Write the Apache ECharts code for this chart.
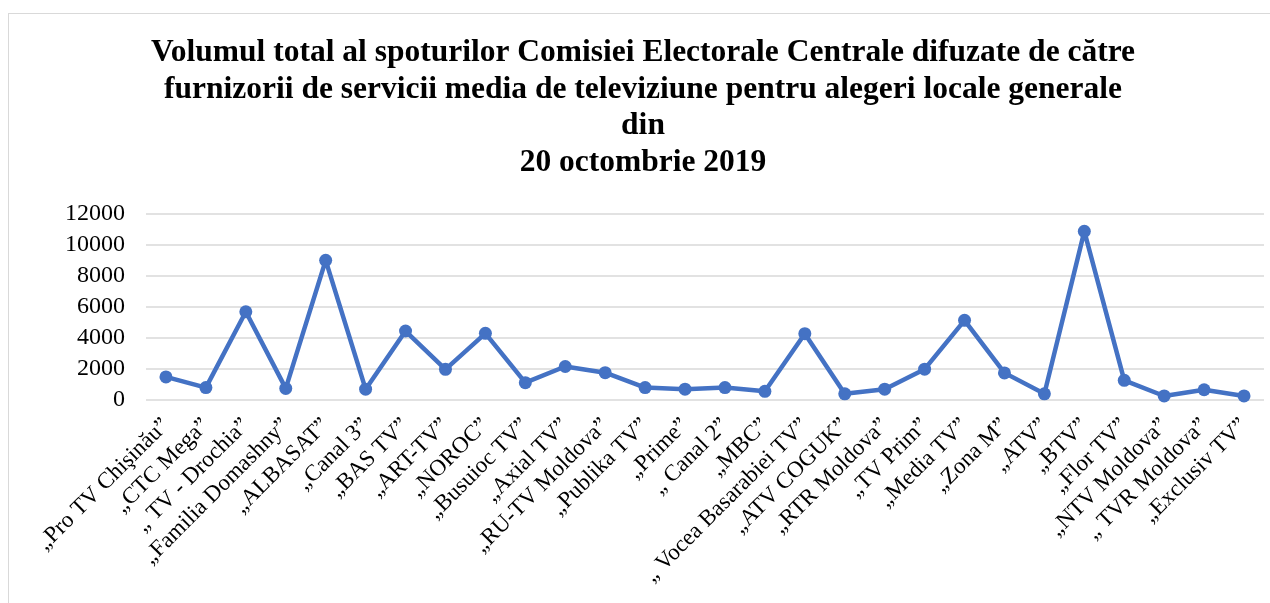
<!DOCTYPE html>
<html>
<head>
<meta charset="utf-8">
<script src="https://cdn.jsdelivr.net/npm/echarts@6/dist/echarts.min.js"></script>
<style>
html,body{margin:0;padding:0;background:#fff;}
#frame{position:absolute;left:8px;top:13px;width:1270px;height:600px;border-left:1.5px solid #d9d9d9;border-top:1.5px solid #d9d9d9;box-sizing:border-box;}
#chart{position:absolute;left:0;top:0;width:1270px;height:603px;}
</style>
</head>
<body>
<div id="frame"></div>
<div id="chart"></div>
<script>
const titleLines = [
  "Volumul total al spoturilor Comisiei Electorale Centrale difuzate de către",
  "furnizorii de servicii media de televiziune pentru alegeri locale generale",
  "din",
  "20 octombrie 2019"
];
const categories = [
  "„Pro TV Chişinău”", "„CTC Mega”", "„ TV - Drochia”", "„Familia Domashny”",
  "„ALBASAT”", "„Canal 3”", "„BAS TV”", "„ART-TV”", "„NOROC”", "„Busuioc TV”",
  "„Axial TV”", "„RU-TV Moldova”", "„Publika TV”", "„Prime”", "„ Canal 2”",
  "„MBC”", "„ Vocea Basarabiei TV”", "„ATV COGUK”", "„RTR Moldova”", "„TV Prim”",
  "„Media TV”", "„Zona M”", "„ATV”", "„BTV”", "„Flor TV”", "„NTV Moldova”",
  "„ TVR Moldova”", "„Exclusiv TV”"
];
const values = [
  1490, 800, 5690, 750, 9010, 700, 4450, 1980, 4300, 1120,
  2160, 1760, 800, 700, 800, 560, 4280, 400, 700, 1990,
  5140, 1750, 400, 10880, 1270, 260, 660, 260
];
const yTicks = { min: 0, max: 12000, interval: 2000 };

const chart = echarts.init(document.getElementById('chart'), null, { renderer: 'canvas' });
chart.setOption({
  backgroundColor: 'transparent',
  animation: false,
  title: {
    text: titleLines.join('\n'),
    left: 638,
    textAlign: 'center',
    top: 30,
    textStyle: {
      fontFamily: 'Liberation Serif',
      fontWeight: 'bold',
      fontSize: 31.5,
      lineHeight: 36.5,
      color: '#000'
    }
  },
  grid: { left: 146, right: 6, top: 214, bottom: 203, containLabel: false },
  xAxis: {
    type: 'category',
    data: categories,
    boundaryGap: true,
    axisLine: { show: false },
    axisTick: { show: false },
    axisLabel: {
      interval: 0,
      rotate: 45,
      margin: 22,
      fontFamily: 'Liberation Serif',
      fontSize: 23,
      color: '#000'
    }
  },
  yAxis: {
    type: 'value',
    min: yTicks.min,
    max: yTicks.max,
    interval: yTicks.interval,
    axisLine: { show: false },
    axisTick: { show: false },
    splitLine: { lineStyle: { color: '#d9d9d9', width: 1.5 } },
    axisLabel: {
      margin: 21,
      fontFamily: 'Liberation Serif',
      fontSize: 24,
      color: '#000',
      formatter: function (v) { return String(v); }
    }
  },
  series: [{
    type: 'line',
    data: values,
    symbol: 'circle',
    symbolSize: 13,
    itemStyle: { color: '#4472C4' },
    lineStyle: { color: '#4472C4', width: 4.5 }
  }]
});
</script>
</body>
</html>
